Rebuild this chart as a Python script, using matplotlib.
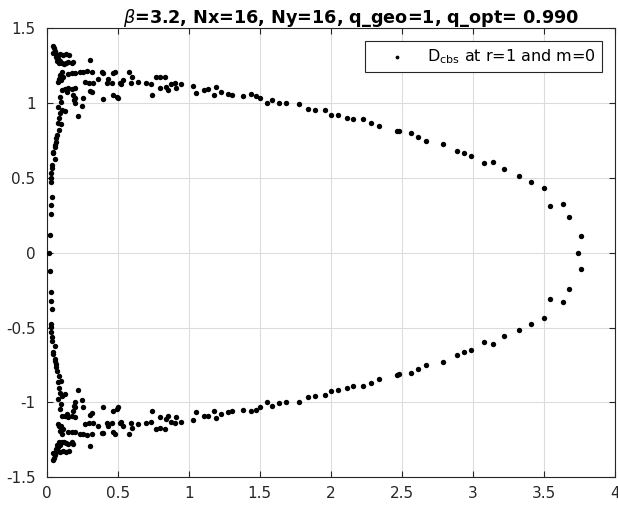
import numpy as np
import matplotlib
matplotlib.use('Agg')
import matplotlib.pyplot as plt

# Upper half of the D_cbs cloud (y >= 0); lower half is its mirror image
x_left = [0.043, 0.053, 0.060, 0.048, 0.067, 0.071, 0.083, 0.095, 0.076, 0.067,
          0.106, 0.090, 0.095, 0.118, 0.137, 0.160, 0.188, 0.177, 0.153, 0.137,
          0.123, 0.305, 0.106, 0.095, 0.118, 0.090, 0.083, 0.100, 0.153, 0.177,
          0.200, 0.235, 0.258, 0.282, 0.317, 0.270, 0.300, 0.328, 0.305, 0.317,
          0.387, 0.399, 0.364, 0.434, 0.422, 0.457, 0.469, 0.480, 0.515, 0.539,
          0.527, 0.581, 0.604, 0.597, 0.644, 0.702, 0.738, 0.773, 0.796, 0.831,
          0.796, 0.843, 0.855, 0.878, 0.901, 0.913, 0.948, 0.399, 0.469, 0.504,
          0.492, 0.745, 0.106, 0.130, 0.153, 0.177, 0.200, 0.141, 0.188, 0.200,
          0.200, 0.193, 0.258, 0.247, 0.223, 0.095, 0.100, 0.083, 0.106, 0.095,
          0.130, 0.090, 0.083, 0.100, 0.090, 0.071, 0.067, 0.060,
          0.067, 0.060, 0.048, 0.043, 0.060, 0.036, 0.036, 0.029, 0.032, 0.029,
          0.036, 0.032, 0.029, 0.025]
y_left = [1.383, 1.368, 1.352, 1.339, 1.330, 1.316, 1.301, 1.285, 1.285, 1.312,
          1.267, 1.267, 1.330, 1.323, 1.330, 1.323, 1.279, 1.267, 1.279, 1.272,
          1.263, 1.290, 1.212, 1.189, 1.178, 1.160, 1.145, 1.156, 1.196, 1.200,
          1.200, 1.212, 1.212, 1.216, 1.212, 1.145, 1.134, 1.134, 1.082, 1.073,
          1.207, 1.205, 1.160, 1.160, 1.138, 1.134, 1.200, 1.212, 1.134, 1.156,
          1.129, 1.212, 1.174, 1.138, 1.145, 1.138, 1.129, 1.178, 1.174, 1.178,
          1.100, 1.111, 1.089, 1.129, 1.138, 1.100, 1.129, 1.029, 1.056, 1.033,
          1.044, 1.056, 1.089, 1.093, 1.100, 1.093, 1.100, 1.078, 1.056, 1.033,
          1.000, 1.022, 1.033, 0.982, 0.917, 1.044, 1.011, 0.978, 0.955, 0.938,
          0.945, 0.900, 0.866, 0.859, 0.822, 0.788, 0.766, 0.721,
          0.743, 0.710, 0.676, 0.665, 0.625, 0.587, 0.565, 0.532, 0.498, 0.476,
          0.375, 0.320, 0.260, 0.119]

x_outer = [1.030, 1.053, 1.111, 1.135, 1.182, 1.193, 1.229, 1.275, 1.306, 1.385,
           1.439, 1.474, 1.504, 1.555, 1.584, 1.633, 1.689, 1.778, 1.843, 1.888,
           1.958, 2.000, 2.049, 2.117, 2.157, 2.229, 2.281, 2.339, 2.467, 2.479,
           2.568, 2.612, 2.673, 2.788, 2.893, 2.937, 2.989, 3.082, 3.147, 3.224,
           3.325, 3.409, 3.501, 3.543, 3.638, 3.680, 3.765]
y_outer = [1.116, 1.067, 1.089, 1.093, 1.055, 1.107, 1.075, 1.065, 1.058, 1.049,
           1.060, 1.049, 1.033, 1.000, 1.022, 1.004, 1.000, 0.995, 0.962, 0.957,
           0.953, 0.924, 0.920, 0.904, 0.893, 0.893, 0.868, 0.846, 0.817, 0.813,
           0.803, 0.773, 0.750, 0.728, 0.681, 0.666, 0.646, 0.599, 0.610, 0.559,
           0.514, 0.476, 0.433, 0.311, 0.329, 0.240, 0.110]

# points lying on the midplane
x_mid = [0.020, 3.743]
y_mid = [0.0, 0.0]

xu = np.array(x_left + x_outer)
yu = np.array(y_left + y_outer)
x_all = np.concatenate([xu, xu, x_mid])
y_all = np.concatenate([yu, -yu, y_mid])

fig = plt.figure(figsize=(6.18, 5.08), dpi=100)
ax = fig.add_axes([0.0755, 0.0605, 0.919, 0.8835])

ax.scatter(x_all, y_all, s=15, c='k', marker='o', linewidths=0,
           label=r'D$_{\rm cbs}$ at r=1 and m=0', zorder=3)

ax.set_xlim(0, 4)
ax.set_ylim(-1.5, 1.5)
ax.set_xticks(np.arange(0, 4.01, 0.5))
ax.set_xticklabels(['0', '0.5', '1', '1.5', '2', '2.5', '3', '3.5', '4'])
ax.set_yticks(np.arange(-1.5, 1.51, 0.5))
ax.set_yticklabels(['-1.5', '-1', '-0.5', '0', '0.5', '1', '1.5'])
ax.grid(True, color='#dcdcdc', linewidth=0.8)
ax.set_axisbelow(True)
ax.tick_params(direction='in', top=True, right=True, length=4,
               labelsize=11, color='#262626', labelcolor='#262626')
ax.tick_params(axis='x', pad=6)
ax.tick_params(axis='y', pad=8)
for sp in ax.spines.values():
    sp.set_color('#262626')
    sp.set_linewidth(0.8)

ax.set_title(r'$\beta$=3.2, Nx=16, Ny=16, q_geo=1, q_opt= 0.990',
             fontsize=12.7, fontweight='bold', x=0.536, pad=4)

leg = ax.legend(loc='upper right', fontsize=11.5, markerscale=0.7,
                fancybox=False, framealpha=1, edgecolor='#262626',
                borderaxespad=0.78, handlelength=3.2, handletextpad=0.3)
leg.get_frame().set_linewidth(0.8)

fig.savefig('out.png', dpi=100)
